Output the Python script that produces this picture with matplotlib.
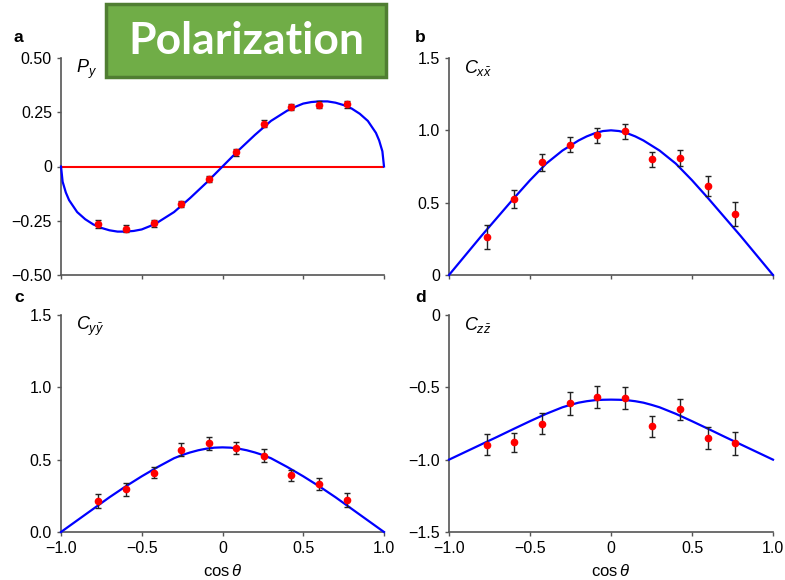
import matplotlib
matplotlib.use('Agg')
import matplotlib.pyplot as plt
from matplotlib.patches import Rectangle

plt.rcParams['font.family'] = ['Liberation Sans', 'DejaVu Sans']
plt.rcParams['mathtext.fontset'] = 'custom'
plt.rcParams['mathtext.rm'] = 'Liberation Sans'
plt.rcParams['mathtext.it'] = 'Liberation Sans:italic'

# bin centres of cos(theta)
cos_bins = [-0.768, -0.597, -0.427, -0.256, -0.085, 0.085, 0.256, 0.427, 0.597, 0.768]

# measured values and errors
py_vals = [-0.266, -0.286, -0.261, -0.172, -0.058, 0.065, 0.197, 0.276, 0.284, 0.286]
py_errs = [0.018, 0.016, 0.016, 0.015, 0.015, 0.015, 0.015, 0.014, 0.016, 0.017]
cxx_vals = [0.263, 0.525, 0.779, 0.899, 0.965, 0.993, 0.800, 0.809, 0.613, 0.422]
cxx_errs = [0.080, 0.062, 0.060, 0.052, 0.050, 0.050, 0.053, 0.058, 0.068, 0.084]
cyy_vals = [0.215, 0.295, 0.410, 0.570, 0.612, 0.582, 0.528, 0.392, 0.330, 0.222]
cyy_errs = [0.050, 0.043, 0.040, 0.043, 0.042, 0.043, 0.044, 0.040, 0.043, 0.048]
czz_vals = [-0.896, -0.880, -0.751, -0.611, -0.567, -0.571, -0.770, -0.652, -0.848, -0.887]
czz_errs = [0.075, 0.067, 0.071, 0.080, 0.073, 0.076, 0.074, 0.073, 0.076, 0.078]

# theory curves
py_curve_x = [-1.0, -0.99, -0.97, -0.95, -0.9, -0.85, -0.8, -0.75, -0.7, -0.65, -0.6,
              -0.55, -0.5, -0.45, -0.4, -0.3, -0.2, -0.1, 0.0,
              0.1, 0.2, 0.3, 0.4, 0.45, 0.5, 0.55, 0.6, 0.65, 0.7, 0.75, 0.8,
              0.85, 0.9, 0.95, 0.97, 0.99, 1.0]
py_curve_y = [0.0, -0.07, -0.12, -0.155, -0.21, -0.243, -0.267, -0.283, -0.294, -0.30, -0.30,
              -0.297, -0.29, -0.275, -0.257, -0.21, -0.145, -0.075, 0.0,
              0.075, 0.145, 0.21, 0.257, 0.275, 0.29, 0.297, 0.30, 0.30, 0.294, 0.283, 0.267,
              0.243, 0.21, 0.155, 0.12, 0.07, 0.0]

curve_x = [-1.0, -0.9, -0.8, -0.7, -0.6, -0.5, -0.4, -0.3, -0.25, -0.2, -0.15, -0.1, -0.05, 0.0,
           0.05, 0.1, 0.15, 0.2, 0.25, 0.3, 0.4, 0.5, 0.6, 0.7, 0.8, 0.9, 1.0]
cxx_curve = [0.0, 0.135, 0.27, 0.40, 0.53, 0.655, 0.77, 0.86, 0.895, 0.93, 0.958, 0.98, 0.995, 1.0,
             0.995, 0.98, 0.958, 0.93, 0.895, 0.86, 0.77, 0.655, 0.53, 0.40, 0.27, 0.135, 0.0]
cyy_curve = [0.0, 0.08, 0.16, 0.24, 0.315, 0.385, 0.45, 0.51, 0.532, 0.55, 0.565, 0.576, 0.583, 0.585,
             0.583, 0.576, 0.565, 0.55, 0.532, 0.51, 0.45, 0.385, 0.315, 0.24, 0.16, 0.08, 0.0]
czz_curve = [-1.0, -0.947, -0.894, -0.841, -0.787, -0.734, -0.683, -0.638, -0.621, -0.606, -0.596,
             -0.589, -0.586, -0.585, -0.586, -0.589, -0.596, -0.606, -0.621, -0.638, -0.683,
             -0.734, -0.787, -0.841, -0.894, -0.947, -1.0]

x_ticks = [-1.0, -0.5, 0, 0.5, 1.0]
x_labels = ['\u22121.0', '\u22120.5', '0', '0.5', '1.0']

W, H = 785, 580


def make_axes(fig, left, top, right, bottom):
    ax = fig.add_axes([left / W, (H - bottom) / H, (right - left) / W, (bottom - top) / H])
    for s in ['top', 'right']:
        ax.spines[s].set_visible(False)
    for s in ['left', 'bottom']:
        ax.spines[s].set_color('#555555')
        ax.spines[s].set_linewidth(1.2)
    ax.tick_params(direction='out', length=3, width=1, color='#555555',
                   labelsize=11.5, pad=3.5)
    ax.set_xlim(-1, 1)
    ax.set_xticks(x_ticks)
    return ax


def plot_panel(ax, cx, cy, vals, errs, name, ylim, yticks, ylabels, bottom_row):
    ax.plot(cx, cy, color='#0000ff', linewidth=1.6, clip_on=False, zorder=3)
    ax.errorbar(cos_bins, vals, yerr=errs, fmt='o', color='#ff0000', markersize=4.5,
                ecolor='#222222', elinewidth=1, capsize=2.5, capthick=1, zorder=4)
    ax.set_ylim(ylim)
    ax.set_yticks(yticks)
    ax.set_yticklabels(ylabels)
    if bottom_row:
        ax.set_xticklabels(x_labels)
        ax.set_xlabel(r'$\cos\theta$', fontsize=12, labelpad=5)
    else:
        ax.set_xticklabels([])
    ax.text(0.045, 1.0, name, transform=ax.transAxes, fontsize=13,
            ha='left', va='top')


def main():
    fig = plt.figure(figsize=(W / 100, H / 100), dpi=100)

    ax_a = make_axes(fig, 61, 58, 384, 275)
    ax_a.axhline(0, color='#ff0000', linewidth=1.5, zorder=2)
    plot_panel(ax_a, py_curve_x, py_curve_y, py_vals, py_errs, r'$P_y$', (-0.5, 0.5),
               [-0.5, -0.25, 0, 0.25, 0.5],
               ['\u22120.50', '\u22120.25', '0', '0.25', '0.50'], False)

    ax_b = make_axes(fig, 449, 58, 773, 275)
    plot_panel(ax_b, curve_x, cxx_curve, cxx_vals, cxx_errs, r'$C_{x\bar{x}}$', (0, 1.5),
               [0, 0.5, 1.0, 1.5], ['0', '0.5', '1.0', '1.5'], False)

    ax_c = make_axes(fig, 61, 315, 384, 532)
    plot_panel(ax_c, curve_x, cyy_curve, cyy_vals, cyy_errs, r'$C_{y\bar{y}}$', (0, 1.5),
               [0, 0.5, 1.0, 1.5], ['0.0', '0.5', '1.0', '1.5'], True)

    ax_d = make_axes(fig, 449, 315, 773, 532)
    plot_panel(ax_d, curve_x, czz_curve, czz_vals, czz_errs, r'$C_{z\bar{z}}$', (-1.5, 0),
               [-1.5, -1.0, -0.5, 0], ['\u22121.5', '\u22121.0', '\u22120.5', '0'], True)

    # panel letters
    for lab, px, py in [('a', 14, 37), ('b', 415, 37), ('c', 14, 298), ('d', 415, 298)]:
        fig.text(px / W, 1 - py / H, lab, fontsize=12.5, fontweight='bold',
                 ha='left', va='center')

    # title box
    box = Rectangle((106 / W, 1 - 77 / H), 280 / W, 73 / H, transform=fig.transFigure,
                    facecolor='#70ad47', edgecolor='#507e32', linewidth=2.5, zorder=10)
    fig.patches.append(box)
    fig.text(246 / W, 1 - 41 / H, 'Polarization', fontsize=32, fontweight='bold',
             family='Lato', color='white', ha='center', va='center', zorder=11)

    plt.savefig('out.png', dpi=100)


if __name__ == '__main__':
    main()
